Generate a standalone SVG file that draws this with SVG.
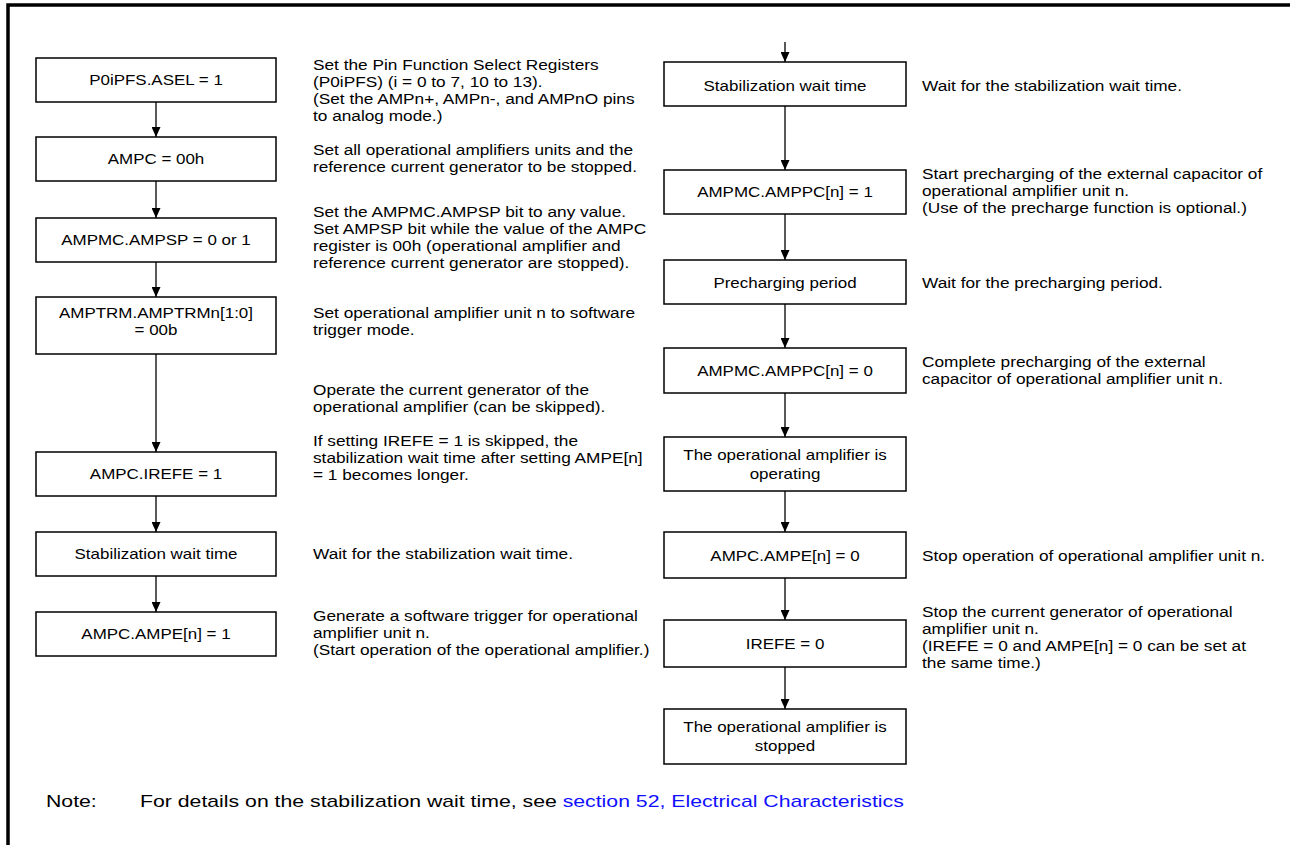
<svg xmlns="http://www.w3.org/2000/svg" width="1290" height="845" viewBox="0 0 1290 845">
<style>
text{font-family:"Liberation Sans",Arial,sans-serif;font-size:15px;fill:#000}
.c{text-anchor:middle}
.nt{font-size:17px}
.box{fill:#fff;stroke:#000;stroke-width:1.5}
.ln{stroke:#000;stroke-width:1.3;fill:none}
.lk{fill:#1010ff}
</style>
<defs>
<marker id="ah" viewBox="0 0 10 10" refX="10" refY="5" markerWidth="10" markerHeight="9" markerUnits="userSpaceOnUse" orient="auto" preserveAspectRatio="none"><path d="M0,0 L10,5 L0,10 Z" fill="#000"/></marker>
</defs>
<rect width="1290" height="845" fill="#fff"/>
<path d="M8,845 V5 H1290" fill="none" stroke="#000" stroke-width="3.5"/>
<g id="connectors">
<line class="ln" x1="156" y1="102" x2="156" y2="137" marker-end="url(#ah)"/>
<line class="ln" x1="156" y1="181" x2="156" y2="218" marker-end="url(#ah)"/>
<line class="ln" x1="156" y1="262" x2="156" y2="297" marker-end="url(#ah)"/>
<line class="ln" x1="156" y1="354" x2="156" y2="452" marker-end="url(#ah)"/>
<line class="ln" x1="156" y1="496" x2="156" y2="532" marker-end="url(#ah)"/>
<line class="ln" x1="156" y1="576" x2="156" y2="612" marker-end="url(#ah)"/>
<line class="ln" x1="785" y1="42" x2="785" y2="62" marker-end="url(#ah)"/>
<line class="ln" x1="785" y1="106" x2="785" y2="170" marker-end="url(#ah)"/>
<line class="ln" x1="785" y1="214" x2="785" y2="260" marker-end="url(#ah)"/>
<line class="ln" x1="785" y1="304" x2="785" y2="348" marker-end="url(#ah)"/>
<line class="ln" x1="785" y1="393" x2="785" y2="437" marker-end="url(#ah)"/>
<line class="ln" x1="785" y1="491" x2="785" y2="532" marker-end="url(#ah)"/>
<line class="ln" x1="785" y1="578" x2="785" y2="620" marker-end="url(#ah)"/>
<line class="ln" x1="785" y1="667" x2="785" y2="709" marker-end="url(#ah)"/>
</g>
<g id="n1"><rect class="box" x="36" y="58" width="240" height="44"/><g transform="translate(156,0) scale(1.13,1)"><text class="c" x="0" y="85">P0iPFS.ASEL = 1</text></g></g>
<g id="n2"><rect class="box" x="36" y="137" width="240" height="44"/><g transform="translate(156,0) scale(1.13,1)"><text class="c" x="0" y="164">AMPC = 00h</text></g></g>
<g id="n3"><rect class="box" x="36" y="218" width="240" height="44"/><g transform="translate(156,0) scale(1.13,1)"><text class="c" x="0" y="245">AMPMC.AMPSP = 0 or 1</text></g></g>
<g id="n4"><rect class="box" x="36" y="297" width="240" height="57"/><g transform="translate(156,0) scale(1.13,1)"><text class="c" x="0" y="318">AMPTRM.AMPTRMn[1:0]</text><text class="c" x="0" y="335">= 00b</text></g></g>
<g id="n5"><rect class="box" x="36" y="452" width="240" height="44"/><g transform="translate(156,0) scale(1.13,1)"><text class="c" x="0" y="479">AMPC.IREFE = 1</text></g></g>
<g id="n6"><rect class="box" x="36" y="532" width="240" height="44"/><g transform="translate(156,0) scale(1.13,1)"><text class="c" x="0" y="559">Stabilization wait time</text></g></g>
<g id="n7"><rect class="box" x="36" y="612" width="240" height="44"/><g transform="translate(156,0) scale(1.13,1)"><text class="c" x="0" y="639">AMPC.AMPE[n] = 1</text></g></g>
<g id="d1" transform="translate(313,0) scale(1.15,1)"><text x="0" y="70">Set the Pin Function Select Registers</text><text x="0" y="87">(P0iPFS) (i = 0 to 7, 10 to 13).</text><text x="0" y="104">(Set the AMPn+, AMPn-, and AMPnO pins</text><text x="0" y="121">to analog mode.)</text></g>
<g id="d2" transform="translate(313,0) scale(1.15,1)"><text x="0" y="155">Set all operational amplifiers units and the</text><text x="0" y="172">reference current generator to be stopped.</text></g>
<g id="d3" transform="translate(313,0) scale(1.15,1)"><text x="0" y="217">Set the AMPMC.AMPSP bit to any value.</text><text x="0" y="234">Set AMPSP bit while the value of the AMPC</text><text x="0" y="251">register is 00h (operational amplifier and</text><text x="0" y="268">reference current generator are stopped).</text></g>
<g id="d4" transform="translate(313,0) scale(1.15,1)"><text x="0" y="318">Set operational amplifier unit n to software</text><text x="0" y="335">trigger mode.</text></g>
<g id="d5" transform="translate(313,0) scale(1.15,1)"><text x="0" y="395">Operate the current generator of the</text><text x="0" y="412">operational amplifier (can be skipped).</text><text x="0" y="446">If setting IREFE = 1 is skipped, the</text><text x="0" y="463">stabilization wait time after setting AMPE[n]</text><text x="0" y="480">= 1 becomes longer.</text></g>
<g id="d6" transform="translate(313,0) scale(1.15,1)"><text x="0" y="559">Wait for the stabilization wait time.</text></g>
<g id="d7" transform="translate(313,0) scale(1.15,1)"><text x="0" y="621">Generate a software trigger for operational</text><text x="0" y="638">amplifier unit n.</text><text x="0" y="655">(Start operation of the operational amplifier.)</text></g>
<g id="r1"><rect class="box" x="664" y="62" width="242" height="44"/><g transform="translate(785,0) scale(1.13,1)"><text class="c" x="0" y="91">Stabilization wait time</text></g></g>
<g id="r2"><rect class="box" x="664" y="170" width="242" height="44"/><g transform="translate(785,0) scale(1.13,1)"><text class="c" x="0" y="197">AMPMC.AMPPC[n] = 1</text></g></g>
<g id="r3"><rect class="box" x="664" y="260" width="242" height="44"/><g transform="translate(785,0) scale(1.13,1)"><text class="c" x="0" y="288">Precharging period</text></g></g>
<g id="r4"><rect class="box" x="664" y="348" width="242" height="45"/><g transform="translate(785,0) scale(1.13,1)"><text class="c" x="0" y="376">AMPMC.AMPPC[n] = 0</text></g></g>
<g id="r5"><rect class="box" x="664" y="437" width="242" height="54"/><g transform="translate(785,0) scale(1.13,1)"><text class="c" x="0" y="460">The operational amplifier is</text><text class="c" x="0" y="479">operating</text></g></g>
<g id="r6"><rect class="box" x="664" y="532" width="242" height="46"/><g transform="translate(785,0) scale(1.13,1)"><text class="c" x="0" y="561">AMPC.AMPE[n] = 0</text></g></g>
<g id="r7"><rect class="box" x="664" y="620" width="242" height="47"/><g transform="translate(785,0) scale(1.13,1)"><text class="c" x="0" y="649">IREFE = 0</text></g></g>
<g id="r8"><rect class="box" x="664" y="709" width="242" height="55"/><g transform="translate(785,0) scale(1.13,1)"><text class="c" x="0" y="732">The operational amplifier is</text><text class="c" x="0" y="751">stopped</text></g></g>
<g id="rd1" transform="translate(922,0) scale(1.15,1)"><text x="0" y="91">Wait for the stabilization wait time.</text></g>
<g id="rd2" transform="translate(922,0) scale(1.15,1)"><text x="0" y="179">Start precharging of the external capacitor of</text><text x="0" y="196">operational amplifier unit n.</text><text x="0" y="213">(Use of the precharge function is optional.)</text></g>
<g id="rd3" transform="translate(922,0) scale(1.15,1)"><text x="0" y="288">Wait for the precharging period.</text></g>
<g id="rd4" transform="translate(922,0) scale(1.15,1)"><text x="0" y="367">Complete precharging of the external</text><text x="0" y="384">capacitor of operational amplifier unit n.</text></g>
<g id="rd6" transform="translate(922,0) scale(1.15,1)"><text x="0" y="561">Stop operation of operational amplifier unit n.</text></g>
<g id="rd7" transform="translate(922,0) scale(1.15,1)"><text x="0" y="617">Stop the current generator of operational</text><text x="0" y="634">amplifier unit n.</text><text x="0" y="651">(IREFE = 0 and AMPE[n] = 0 can be set at</text><text x="0" y="668">the same time.)</text></g>
<g id="note"><g transform="translate(46,0) scale(1.25,1)"><text class="nt" x="0" y="807">Note:</text></g><g transform="translate(140,0) scale(1.25,1)"><text class="nt" x="0" y="807">For details on the stabilization wait time, see <tspan class="lk">section 52, Electrical Characteristics</tspan></text></g></g>
</svg>
